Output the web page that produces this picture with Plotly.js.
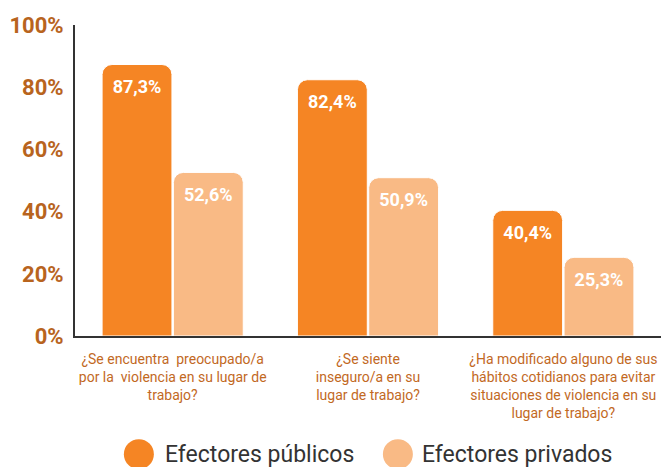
<!DOCTYPE html>
<html>
<head>
<meta charset="utf-8">
<script src="https://cdn.plot.ly/plotly-3.0.1.min.js"></script>
<style>
  html, body { margin: 0; padding: 0; background: #fff; }
  #chart { width: 662px; height: 467px; }
</style>
</head>
<body>
<div id="chart"></div>
<script>
// data
var categories = [
  "¿Se encuentra  preocupado/a<br>por la  violencia en su lugar de<br>trabajo?",
  "¿Se siente<br>inseguro/a en su<br>lugar de trabajo?",
  "¿Ha modificado alguno de sus<br>hábitos cotidianos para evitar<br>situaciones de violencia en su<br>lugar de trabajo?"
];
var publicos = [87.3, 82.4, 40.4];
var privados = [52.6, 50.9, 25.3];
var seriesNames = ["Efectores públicos", "Efectores privados"];
var yTicks = [0, 20, 40, 60, 80, 100];

var darkOrange = "#F58524";
var lightOrange = "#F9BA85";
var labelColor = "#C2691F";

function pct(v) {
  return v.toFixed(1).replace(".", ",") + "%";
}

function barTrace(vals, name, color) {
  return {
    type: "bar",
    x: categories,
    y: vals,
    name: name,
    showlegend: false,
    marker: { color: color, line: { color: "#fff", width: 1 }, cornerradius: 10 },
    hoverinfo: "x+y"
  };
}

// value labels sit a little below each bar top
function labelTrace(vals) {
  return {
    type: "scatter",
    mode: "markers+text",
    x: categories,
    y: vals,
    showlegend: false,
    marker: { size: 22, opacity: 0 },
    text: vals.map(pct),
    textposition: "bottom center",
    textfont: { family: "Roboto", size: 18, color: "#fff", weight: "bold" },
    hoverinfo: "skip",
    cliponaxis: false
  };
}

var data = [
  barTrace(publicos, seriesNames[0], darkOrange),
  barTrace(privados, seriesNames[1], lightOrange),
  labelTrace(publicos),
  labelTrace(privados)
];

// legend: round bullets + text
var legendColors = [darkOrange, lightOrange];
var bulletX = [0.109, 0.551];
var textX = [0.150, 0.589];
var legendY = -0.38;
var shapes = seriesNames.map(function (n, i) {
  return {
    type: "circle",
    xref: "paper", yref: "paper",
    xsizemode: "pixel", ysizemode: "pixel",
    xanchor: bulletX[i], yanchor: legendY,
    x0: -15, x1: 15, y0: -15, y1: 15,
    fillcolor: legendColors[i],
    line: { width: 0 }
  };
});
var annotations = seriesNames.map(function (n, i) {
  return {
    xref: "paper", yref: "paper",
    x: textX[i], y: legendY,
    xanchor: "left", yanchor: "middle",
    showarrow: false,
    text: n,
    font: { family: "Roboto", size: 23, color: "#333" }
  };
});

var layout = {
  width: 662,
  height: 467,
  margin: { l: 75, r: 1, t: 25, b: 131 },
  paper_bgcolor: "#fff",
  plot_bgcolor: "#fff",
  barmode: "group",
  bargap: 0.27,
  bargroupgap: 0.02,
  scattermode: "group",
  scattergap: 0.27,
  showlegend: false,
  xaxis: {
    showline: true,
    linecolor: "#333",
    linewidth: 2,
    ticks: "outside",
    ticklen: 9,
    tickcolor: "rgba(0,0,0,0)",
    tickfont: { family: "Roboto", size: 14, color: labelColor },
    fixedrange: true
  },
  yaxis: {
    range: [0, 100],
    tickvals: yTicks,
    ticktext: yTicks.map(function (t) { return t + "%"; }),
    showgrid: false,
    zeroline: false,
    showline: true,
    linecolor: "#333",
    linewidth: 2,
    ticks: "outside",
    ticklen: 5,
    tickcolor: "rgba(0,0,0,0)",
    tickfont: { family: "Roboto", size: 22, color: "#B8641E", weight: "bold" },
    fixedrange: true
  },
  shapes: shapes,
  annotations: annotations
};

Plotly.newPlot("chart", data, layout, { displayModeBar: false, staticPlot: true });
</script>
</body>
</html>
